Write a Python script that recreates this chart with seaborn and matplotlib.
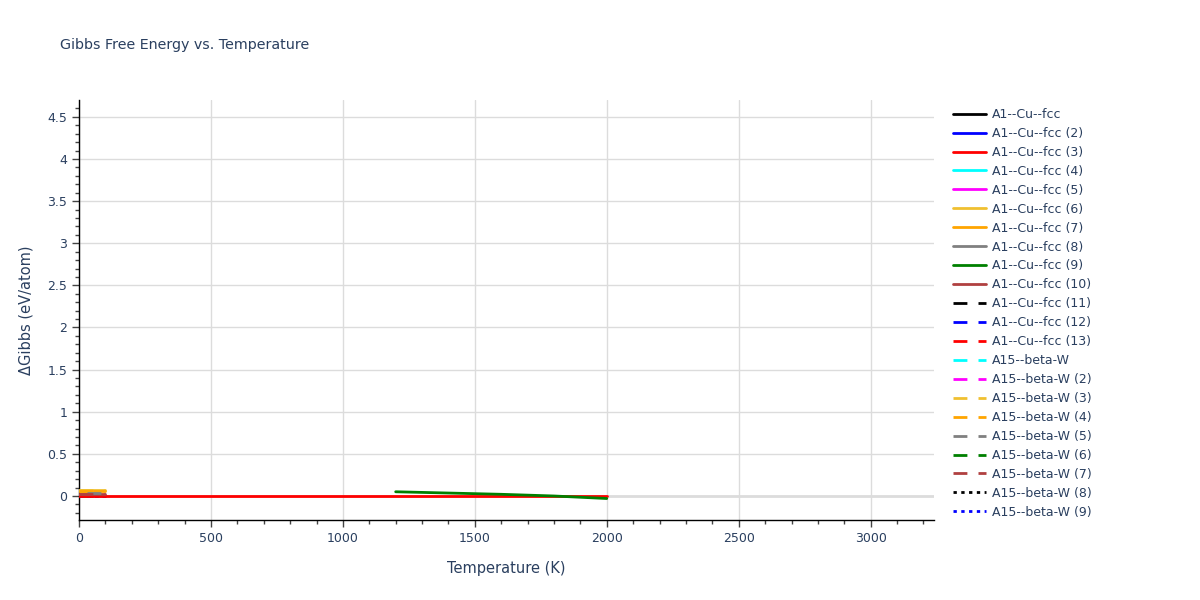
import matplotlib
matplotlib.use("Agg")
import matplotlib.pyplot as plt
import seaborn as sns
import pandas as pd
import numpy as np

sns.set_theme(style="white")
plt.rcParams['font.family'] = ['DejaVu Sans']

title = "Gibbs Free Energy vs. Temperature"
x_label = "Temperature (K)"
y_label = "ΔGibbs (eV/atom)"

names = ["A1--Cu--fcc", "A1--Cu--fcc (2)", "A1--Cu--fcc (3)", "A1--Cu--fcc (4)",
         "A1--Cu--fcc (5)", "A1--Cu--fcc (6)", "A1--Cu--fcc (7)", "A1--Cu--fcc (8)",
         "A1--Cu--fcc (9)", "A1--Cu--fcc (10)", "A1--Cu--fcc (11)", "A1--Cu--fcc (12)",
         "A1--Cu--fcc (13)", "A15--beta-W", "A15--beta-W (2)", "A15--beta-W (3)",
         "A15--beta-W (4)", "A15--beta-W (5)", "A15--beta-W (6)", "A15--beta-W (7)",
         "A15--beta-W (8)", "A15--beta-W (9)"]
colors = ["black", "blue", "red", "cyan", "magenta", "#f0c030", "orange", "gray",
          "green", "#b04040", "black", "blue", "red", "cyan", "magenta", "#f0c030",
          "orange", "gray", "green", "#b04040", "black", "blue"]
dashes = ["solid"] * 10 + ["dash"] * 10 + ["dot"] * 2

# temperatures (K) and ΔG (eV/atom) per trace
temps = {
    "A1--Cu--fcc": [0, 100], "A1--Cu--fcc (2)": [0, 100],
    "A1--Cu--fcc (3)": [0, 500, 1000, 1500, 2000],
    "A1--Cu--fcc (4)": [0, 100], "A1--Cu--fcc (5)": [0, 100],
    "A1--Cu--fcc (6)": [0, 100], "A1--Cu--fcc (7)": [0, 100],
    "A1--Cu--fcc (8)": [0, 100], "A1--Cu--fcc (9)": [1200, 1400, 1600, 1800, 2000],
    "A1--Cu--fcc (10)": [0, 100], "A1--Cu--fcc (11)": [0, 100],
    "A1--Cu--fcc (12)": [0, 100], "A1--Cu--fcc (13)": [0, 100],
    "A15--beta-W": [0, 100], "A15--beta-W (2)": [0, 100], "A15--beta-W (3)": [0, 100],
    "A15--beta-W (4)": [0, 100], "A15--beta-W (5)": [30, 90], "A15--beta-W (6)": [0, 100],
    "A15--beta-W (7)": [0, 100], "A15--beta-W (8)": [0, 100], "A15--beta-W (9)": [0, 100],
}
gibbs = {
    "A1--Cu--fcc": [0.0, 0.0], "A1--Cu--fcc (2)": [0.0, 0.0],
    "A1--Cu--fcc (3)": [0.0, 0.0, 0.0, 0.0, 0.0],
    "A1--Cu--fcc (4)": [0.0, 0.0], "A1--Cu--fcc (5)": [0.0, 0.0],
    "A1--Cu--fcc (6)": [0.075, 0.075], "A1--Cu--fcc (7)": [0.06, 0.06],
    "A1--Cu--fcc (8)": [0.0, 0.0], "A1--Cu--fcc (9)": [0.05, 0.035, 0.02, 0.0, -0.03],
    "A1--Cu--fcc (10)": [0.025, 0.025], "A1--Cu--fcc (11)": [0.0, 0.0],
    "A1--Cu--fcc (12)": [0.0, 0.0], "A1--Cu--fcc (13)": [0.0, 0.0],
    "A15--beta-W": [0.0, 0.0], "A15--beta-W (2)": [0.0, 0.0], "A15--beta-W (3)": [0.07, 0.07],
    "A15--beta-W (4)": [0.055, 0.055], "A15--beta-W (5)": [0.035, 0.035], "A15--beta-W (6)": [0.0, 0.0],
    "A15--beta-W (7)": [0.02, 0.02], "A15--beta-W (8)": [0.0, 0.0], "A15--beta-W (9)": [0.0, 0.0],
}

x_ticks = [0, 500, 1000, 1500, 2000, 2500, 3000]
y_ticks = [0, 0.5, 1, 1.5, 2, 2.5, 3, 3.5, 4, 4.5]
y_tick_labels = ["0", "0.5", "1", "1.5", "2", "2.5", "3", "3.5", "4", "4.5"]

text_color = "#2a3f5f"
grid_color = "#dcdcdc"

fig = plt.figure(figsize=(12, 6), dpi=100)
ax = fig.add_axes([79/1200, 1 - 520/600, (934-79)/1200, (520-100)/600])

ls_map = {"solid": "-", "dash": (0, (5, 4)), "dot": (0, (1.2, 1.6))}

ax.axhline(0, color=grid_color, lw=2, zorder=1)

handles = []
for name, c, d in zip(names, colors, dashes):
    df = pd.DataFrame({"T": temps[name], "G": gibbs[name]})
    vals = gibbs[name]
    if name == "A1--Cu--fcc (3)":
        z = 3
    elif all(v == 0 for v in vals):
        z = 2
    else:
        z = 4
    sns.lineplot(data=df, x="T", y="G", ax=ax, color=c, lw=2, linestyle=ls_map[d],
                 legend=False, zorder=z, estimator=None, sort=False)
    handles.append(matplotlib.lines.Line2D([], [], color=c, lw=2, linestyle=ls_map[d]))

ax.set_xlim(0, 3240)
ax.set_ylim(-0.285, 4.7)
ax.set_xticks(x_ticks)
ax.set_xticklabels([str(v) for v in x_ticks])
ax.set_yticks(y_ticks)
ax.set_yticklabels(y_tick_labels)
ax.set_xticks(np.arange(0, 3240, 100), minor=True)
ax.set_yticks(np.arange(-0.2, 4.7, 0.1), minor=True)
ax.grid(True, which="major", color=grid_color, lw=1)
ax.set_axisbelow(True)
for s in ["top", "right"]:
    ax.spines[s].set_visible(False)
for s in ["left", "bottom"]:
    ax.spines[s].set_color("black")
    ax.spines[s].set_linewidth(1)
ax.tick_params(axis="both", which="major", direction="out", length=5, width=1,
               color="#444444", labelsize=9, labelcolor=text_color, left=True, bottom=True)
ax.tick_params(axis="both", which="minor", direction="out", length=3, width=1,
               color="#444444", left=True, bottom=True)
ax.set_xlabel(x_label, fontsize=10.5, color=text_color, labelpad=12)
ax.set_ylabel(y_label, fontsize=10.5, color=text_color, labelpad=10)

fig.text(60/1200, 1 - 45/600, title, fontsize=10.3, color=text_color, va="center", ha="left")

leg = fig.legend(handles, names, loc="upper left", bbox_to_anchor=(948/1200, 1 - 103/600),
                 frameon=False, fontsize=9, labelcolor=text_color, handlelength=2.6,
                 handletextpad=0.5, labelspacing=0.475, borderaxespad=0)

fig.savefig("out.png", dpi=100)
